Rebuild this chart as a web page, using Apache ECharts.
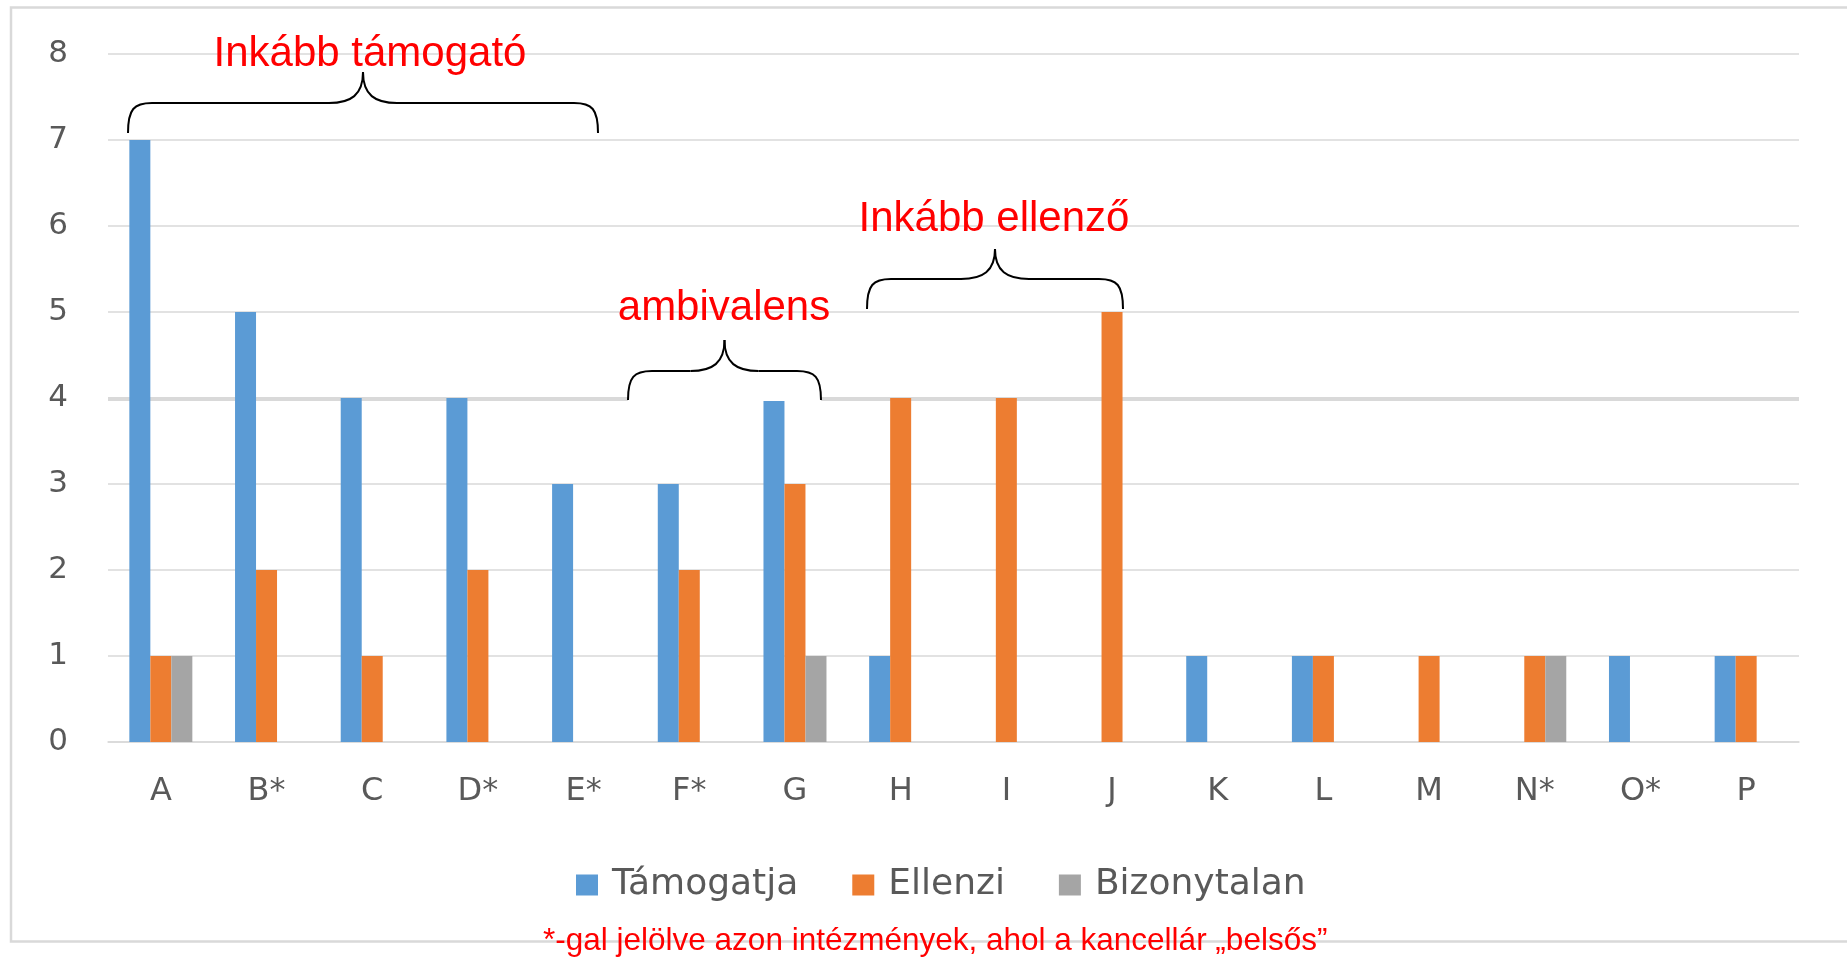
<!DOCTYPE html>
<html>
<head>
<meta charset="utf-8">
<script src="https://cdn.jsdelivr.net/npm/echarts@6/dist/echarts.min.js"></script>
<style>
html,body{margin:0;padding:0;background:#fff;}
#c{width:1847px;height:957px;}
</style>
</head>
<body>
<div id="c"></div>
<script>
var categories = ['A','B*','C','D*','E*','F*','G','H','I','J','K','L','M','N*','O*','P'];
var tamogatja   = [7,5,4,4,3,3,4,1,0,0,1,1,0,0,1,1];
var ellenzi     = [1,2,1,2,0,2,3,4,4,5,0,1,1,1,0,1];
var bizonytalan = [1,0,0,0,0,0,1,0,0,0,0,0,0,1,0,0];
var seriesNames = ['Támogatja','Ellenzi','Bizonytalan'];
var yTicks = [0,1,2,3,4,5,6,7,8];

var gray = '#595959';
var chart = echarts.init(document.getElementById('c'), null, {renderer:'canvas'});

function bar(name, data, color){
  return {
    name: name, type: 'bar', data: data, barWidth: 21, barGap: '0%',
    itemStyle: {color: color}, emphasis: {disabled: true}, z: 2
  };
}

var option = {
  animation: false,
  backgroundColor: '#ffffff',
  grid: {left: 108, right: 48, top: 54, bottom: 215, containLabel: false},
  legend: {
    data: seriesNames, left: 571, top: 862,
    itemWidth: 22, itemHeight: 21, itemGap: 54,
    icon: 'rect',
    textStyle: {fontFamily: 'DejaVu Sans', fontSize: 36, color: gray, padding: [0,0,0,9]}
  },
  xAxis: {
    type: 'category', data: categories,
    axisTick: {show: false},
    axisLine: {lineStyle: {color: '#D9D9D9', width: 1.5}},
    axisLabel: {fontFamily: 'DejaVu Sans', fontSize: 32, color: gray, margin: 34}
  },
  yAxis: {
    type: 'value', min: 0, max: 8, interval: 1,
    axisLine: {show: false}, axisTick: {show: false},
    splitLine: {lineStyle: {color: '#D9D9D9', width: 1.5}},
    axisLabel: {
      fontFamily: 'DejaVu Sans', fontSize: 31, color: gray, margin: 40,
      formatter: function(v){ return yTicks.indexOf(v) >= 0 ? String(v) : ''; }
    }
  },
  series: [
    bar(seriesNames[0], tamogatja, '#5B9BD5'),
    bar(seriesNames[1], ellenzi, '#ED7D31'),
    bar(seriesNames[2], bizonytalan, '#A5A5A5')
  ]
};
chart.setOption(option);

var y4 = chart.convertToPixel({yAxisIndex: 0}, 4);
var xL = 108, xR = 1847 - 48;

var braceStyle = {fill: 'none', stroke: '#000', lineWidth: 2};
function brace(x0, x1, yb, yh, yt){
  var xc = (x0 + x1) / 2;
  var r = 24, c = 34;
  function bz(a){ return {type: 'bezierCurve', silent: true, z: 101, shape: a, style: braceStyle}; }
  function ln(a){ return {type: 'line', silent: true, z: 101, shape: a, style: braceStyle}; }
  return [
    bz({x1: x0, y1: yb, cpx1: x0, cpy1: yh + 6, cpx2: x0 + 6, cpy2: yh, x2: x0 + r, y2: yh}),
    ln({x1: x0 + r, y1: yh, x2: xc - c, y2: yh}),
    bz({x1: xc - c, y1: yh, cpx1: xc - 12, cpy1: yh, cpx2: xc, cpy2: yh - 8, x2: xc, y2: yt}),
    bz({x1: xc, y1: yt, cpx1: xc, cpy1: yh - 8, cpx2: xc + 12, cpy2: yh, x2: xc + c, y2: yh}),
    ln({x1: xc + c, y1: yh, x2: x1 - r, y2: yh}),
    bz({x1: x1 - r, y1: yh, cpx1: x1 - 6, cpy1: yh, cpx2: x1, cpy2: yh + 6, x2: x1, y2: yb})
  ];
}

var red = '#FF0000';
var graphics = [
  {type: 'rect', silent: true, z: 0,
   shape: {x: 11, y: 7.5, width: 1900, height: 934},
   style: {fill: 'none', stroke: '#D9D9D9', lineWidth: 2.5}},
  {type: 'line', silent: true, z: 1,
   shape: {x1: xL, y1: y4 + 1, x2: xR, y2: y4 + 1},
   style: {stroke: '#D9D9D9', lineWidth: 4}},
  {type: 'rect', silent: true, z: 100,
   shape: {x: 628, y: y4 - 4, width: 193, height: 7},
   style: {fill: '#ffffff'}}
];
graphics = graphics.concat(brace(128, 598, 133, 103, 72));
graphics = graphics.concat(brace(628, 821, 400, 371, 340));
graphics = graphics.concat(brace(867, 1123, 309, 279, 249));
graphics.push(
  {type: 'text', silent: true, z: 102, x: 370, y: 54,
   style: {text: 'Inkább támogató', fill: red, font: '42px "Liberation Sans", Arial, sans-serif', textAlign: 'center', textVerticalAlign: 'middle'}},
  {type: 'text', silent: true, z: 102, x: 724, y: 308,
   style: {text: 'ambivalens', fill: red, font: '42px "Liberation Sans", Arial, sans-serif', textAlign: 'center', textVerticalAlign: 'middle'}},
  {type: 'text', silent: true, z: 102, x: 994, y: 219,
   style: {text: 'Inkább ellenző', fill: red, font: '42px "Liberation Sans", Arial, sans-serif', textAlign: 'center', textVerticalAlign: 'middle'}},
  {type: 'text', silent: true, z: 102, x: 543, y: 941,
   style: {text: '*-gal jelölve azon intézmények, ahol a kancellár \u201ebelsős\u201d', fill: red, font: '31.5px "Liberation Sans", Arial, sans-serif', textAlign: 'left', textVerticalAlign: 'middle'}}
);
chart.setOption({graphic: graphics});
</script>
</body>
</html>
